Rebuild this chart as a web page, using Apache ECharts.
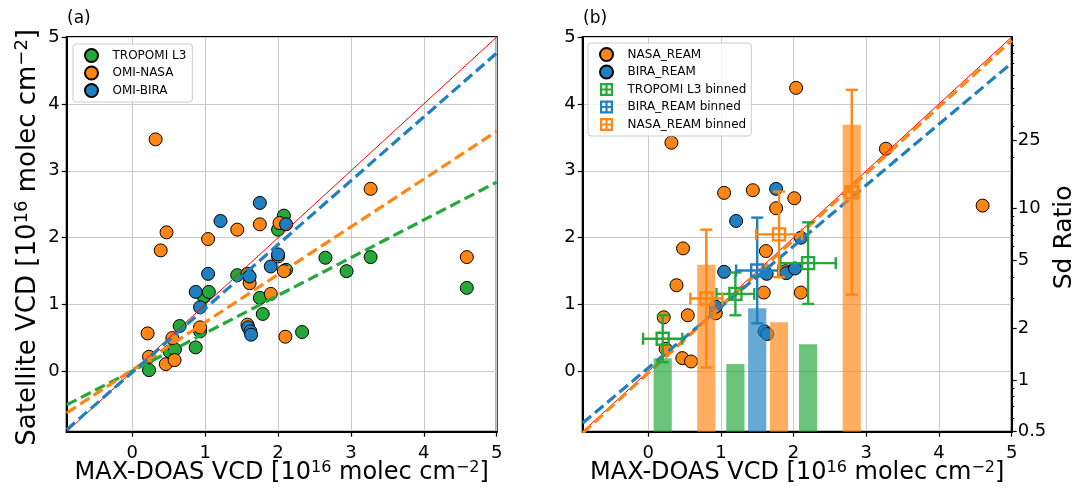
<!DOCTYPE html>
<html>
<head>
<meta charset="utf-8">
<script src="https://cdn.jsdelivr.net/npm/echarts@6/dist/echarts.min.js"></script>
<style>
  html, body { margin: 0; padding: 0; background: #fff; }
  #chart { width: 1077px; height: 488px; }
</style>
</head>
<body>
<div id="chart"></div>
<script>
// ---------- panel (a): satellite vs MAX-DOAS VCD, [x, y] in 1e16 molec cm-2 ----------
const tropomiL3 = [
  [0.23, 0.02], [0.51, 0.30], [0.585, 0.33], [0.87, 0.36], [0.65, 0.68], [0.93, 0.60],
  [0.98, 1.12], [1.05, 1.19], [1.44, 1.44], [1.58, 1.46], [1.75, 1.10], [1.79, 0.86],
  [2.33, 0.59], [2.11, 1.52], [2.00, 2.12], [2.08, 2.33], [2.65, 1.70], [2.94, 1.50],
  [3.27, 1.71], [4.59, 1.25]
];
const omiNasa = [
  [0.32, 3.47], [0.47, 2.08], [0.39, 1.81], [1.04, 1.98], [1.44, 2.12], [1.75, 2.20],
  [3.27, 2.73], [4.59, 1.71], [0.21, 0.57], [0.23, 0.22], [0.46, 0.11], [0.55, 0.50],
  [0.58, 0.17], [0.93, 0.66], [1.61, 1.32], [1.90, 1.16], [1.58, 0.70], [2.10, 0.52],
  [2.02, 2.22], [2.00, 1.72], [2.08, 1.50]
];
const omiBira = [
  [1.75, 2.52], [1.21, 2.25], [2.11, 2.20], [2.00, 1.75], [1.90, 1.57], [1.61, 1.42],
  [1.04, 1.46], [0.87, 1.19], [0.93, 0.96], [1.59, 0.66], [1.62, 0.60], [1.63, 0.55]
];
// regression lines, given by their end points
const oneToOne   = [[-0.9, -0.9], [5, 5]];
const fitTropomi = [[-0.9, -0.50], [5, 2.83]];
const fitOmiNasa = [[-0.9, -0.62], [5, 3.59]];
const fitOmiBira = [[-0.9, -0.87], [5, 4.76]];

// ---------- panel (b): model-adjusted products ----------
const nasaReam = [
  [2.035, 4.24], [0.32, 3.42], [3.27, 3.33], [1.045, 2.67], [1.44, 2.71], [2.01, 2.59],
  [1.76, 2.44], [4.60, 2.48], [0.48, 1.84], [1.62, 1.80], [0.39, 1.29], [1.59, 1.18],
  [2.10, 1.18], [0.545, 0.84], [0.215, 0.81], [0.93, 0.87], [0.24, 0.34], [0.47, 0.20],
  [0.59, 0.15], [1.89, 1.50]
];
const biraReam = [
  [1.76, 2.73], [1.21, 2.25], [2.10, 2.00], [1.045, 1.49], [1.63, 1.46], [1.90, 1.47],
  [2.02, 1.54], [0.93, 0.97], [1.60, 0.60], [1.64, 0.56]
];
const fitNasaReam = [[-0.9, -0.92], [5, 4.95]];
const fitBiraReam = [[-0.9, -0.77], [5, 4.61]];

// binned means with +/- spread
const tropomiBinX    = [0.2, 1.2, 2.2];
const tropomiBinY    = [0.49, 1.16, 1.62];
const tropomiBinXErr = [0.27, 0.26, 0.38];
const tropomiBinYErr = [0.35, 0.32, 0.61];

const biraBinX    = [1.5];
const biraBinY    = [1.51];
const biraBinXErr = [0.29];
const biraBinYErr = [0.79];

const nasaBinX    = [0.8, 1.8, 2.8];
const nasaBinY    = [1.09, 2.05, 2.68];
const nasaBinXErr = [0.22, 0.315, 0.09];
const nasaBinYErr = [1.03, 0.64, 1.53];

// standard-deviation ratio per bin (right log axis)
const tropomiSd = [1.34, 1.24, 1.62];
const biraSd    = [2.62];
const nasaSd    = [4.70, 2.17, 30.8];

// axis ticks
const vcdTicks     = [0, 1, 2, 3, 4, 5];
const sdTicks      = [0.5, 1, 2, 5, 10, 25];
const sdMinorTicks = [0.6, 0.7, 0.8, 0.9, 3, 4, 6, 7, 8, 9, 20, 30, 40, 50, 60, 70, 80, 90];

// ---------- styling ----------
const FONT = 'DejaVu Sans';
const GREEN = '#24a83a';
const ORANGE = '#ff8614';
const BLUE = '#1f7fbf';
const GRID_COLOR = '#c8c8c8';
const SD_MIN = 0.5, SD_MAX = 100;
const BAR_WIDTH = 0.25;
const BIN_ICON = 'path://M0,0H12V12H0Z M2,2V5H5V2Z M7,2V5H10V2Z M2,7V10H5V7Z M7,7V10H10V7Z';

const vcdName = '{n|MAX-DOAS VCD [10}{s|16}{n| molec cm}{s|\u22122}{n|]}';
const satName = '{n|Satellite VCD [10}{s|16}{n| molec cm}{s|\u22122}{n|]}';
function nameRich(size) {
  return {
    n: { fontSize: size, fontFamily: FONT, color: '#000' },
    s: { fontSize: Math.round(size * 0.68), fontFamily: FONT, color: '#000', verticalAlign: 'top', padding: [0, 0, 11, 0] }
  };
}

function vcdAxis(gridIndex, extra) {
  return Object.assign({
    type: 'value', gridIndex: gridIndex, min: -0.9, max: 5,
    axisLine: { show: true, onZero: false, lineStyle: { color: '#000', width: 2 } },
    axisTick: { show: true, length: 5, customValues: vcdTicks, lineStyle: { color: '#000', width: 1.2 } },
    axisLabel: { customValues: vcdTicks, color: '#000', fontSize: 18, fontFamily: FONT, margin: 7 },
    splitLine: { show: true, lineStyle: { color: GRID_COLOR, width: 1 } },
    nameMoveOverlap: false
  }, extra || {});
}

function xAxisFor(gridIndex) {
  return vcdAxis(gridIndex, {
    position: 'bottom',
    axisLabel: { customValues: vcdTicks, color: '#000', fontSize: 18, fontFamily: FONT, margin: 13 },
    name: vcdName, nameLocation: 'middle', nameGap: 28,
    nameTextStyle: { rich: nameRich(24) }
  });
}

function scatter(name, data, color, xi, yi) {
  return {
    type: 'scatter', name: name, data: data, xAxisIndex: xi, yAxisIndex: yi,
    symbol: 'circle', symbolSize: 13, z: 2,
    itemStyle: { color: color, borderColor: '#000', borderWidth: 1, opacity: 1 },
    emphasis: { disabled: true }, silent: true
  };
}

function fitLine(name, data, color, xi, yi, dashed) {
  return {
    type: 'line', name: name, data: data, xAxisIndex: xi, yAxisIndex: yi,
    showSymbol: false, symbol: 'none', z: 3, silent: true,
    lineStyle: dashed ? { color: color, width: 3.2, type: [11, 5] } : { color: color, width: 1 },
    emphasis: { disabled: true }
  };
}

function errorBars(name, xs, ys, xe, ye, color) {
  return {
    type: 'custom', name: name, xAxisIndex: 1, yAxisIndex: 1, z: 4, silent: true,
    itemStyle: { color: color },
    encode: { x: 0, y: 1 },
    data: xs.map((x, i) => [x, ys[i], xe[i], ye[i]]),
    renderItem: function (params, api) {
      const x = api.value(0), y = api.value(1), ex = api.value(2), ey = api.value(3);
      const c = api.coord([x, y]);
      const l = api.coord([x - ex, y]), r = api.coord([x + ex, y]);
      const t = api.coord([x, y + ey]), b = api.coord([x, y - ey]);
      const cap = 6;
      const ls = { stroke: color, lineWidth: 2.4 };
      const seg = (x1, y1, x2, y2) => ({ type: 'line', shape: { x1, y1, x2, y2 }, style: ls });
      return {
        type: 'group',
        children: [
          seg(l[0], l[1], r[0], r[1]),
          seg(t[0], t[1], b[0], b[1]),
          seg(l[0], l[1] - cap, l[0], l[1] + cap),
          seg(r[0], r[1] - cap, r[0], r[1] + cap),
          seg(t[0] - cap, t[1], t[0] + cap, t[1]),
          seg(b[0] - cap, b[1], b[0] + cap, b[1]),
          { type: 'rect', shape: { x: c[0] - 6, y: c[1] - 6, width: 12, height: 12 },
            style: { fill: 'none', stroke: color, lineWidth: 2.4 } }
        ]
      };
    }
  };
}

function sdBars(name, xs, vals, color) {
  return {
    type: 'custom', name: name, xAxisIndex: 1, yAxisIndex: 2, z: 5, silent: true,
    itemStyle: { color: color },
    encode: { x: 0, y: 1 },
    data: xs.map((x, i) => [x, vals[i]]),
    renderItem: function (params, api) {
      const x = api.value(0), v = api.value(1);
      const tl = api.coord([x - BAR_WIDTH / 2, v]);
      const br = api.coord([x + BAR_WIDTH / 2, SD_MIN]);
      return {
        type: 'rect',
        shape: { x: tl[0], y: tl[1], width: br[0] - tl[0], height: br[1] - tl[1] },
        style: { fill: color, opacity: 0.68 }
      };
    }
  };
}

const legendBase = {
  orient: 'vertical', itemWidth: 32, itemHeight: 13, itemGap: 2.5,
  backgroundColor: 'rgba(255,255,255,0.8)', borderColor: '#cccccc', borderWidth: 1, borderRadius: 3,
  textStyle: { fontSize: 12, lineHeight: 15, fontFamily: FONT, color: '#000' },
  selectedMode: false
};

function sdAxis(extra) {
  return Object.assign({
    type: 'log', logBase: 10, gridIndex: 1, position: 'right', min: SD_MIN, max: SD_MAX,
    splitLine: { show: false }, nameMoveOverlap: false
  }, extra);
}

const gridBase = {
  top: 37, height: 394.7, show: true, borderColor: '#000', borderWidth: 2,
  backgroundColor: 'transparent', containLabel: false, outerBoundsMode: 'none'
};

const option = {
  animation: false,
  backgroundColor: '#fff',
  textStyle: { fontFamily: FONT },
  grid: [
    Object.assign({ left: 66.7, width: 430 }, gridBase),
    Object.assign({ left: 582.7, width: 429 }, gridBase)
  ],
  xAxis: [xAxisFor(0), xAxisFor(1)],
  yAxis: [
    vcdAxis(0, {
      position: 'left', name: satName, nameLocation: 'middle', nameRotate: 90, nameGap: 24,
      nameTextStyle: { rich: nameRich(26), padding: [0, 6, 0, 0] }
    }),
    vcdAxis(1, { position: 'left' }),
    sdAxis({
      axisLine: { show: true, onZero: false, lineStyle: { color: '#000', width: 2 } },
      axisTick: { show: true, length: 5, customValues: sdTicks, lineStyle: { color: '#000', width: 1.2 } },
      axisLabel: { customValues: sdTicks, color: '#000', fontSize: 18, fontFamily: FONT, margin: 6 },
      name: 'Sd Ratio', nameLocation: 'middle', nameRotate: 90, nameGap: 40,
      nameTextStyle: { fontSize: 25, fontFamily: FONT, color: '#000', padding: [0, 6, 0, 0] }
    }),
    sdAxis({
      axisLine: { show: false, onZero: false },
      axisTick: { show: true, length: 2.5, customValues: sdMinorTicks, lineStyle: { color: '#000', width: 1 } },
      axisLabel: { show: false }
    })
  ],
  legend: [
    Object.assign({}, legendBase, {
      left: 73, top: 44, padding: [4, 6, 4, 11],
      data: ['TROPOMI L3', 'OMI-NASA', 'OMI-BIRA']
    }),
    Object.assign({}, legendBase, {
      left: 588, top: 43, padding: [4, 5, 4, 11],
      data: [
        'NASA_REAM', 'BIRA_REAM',
        { name: 'TROPOMI L3 binned', icon: BIN_ICON, itemStyle: { color: GREEN } },
        { name: 'BIRA_REAM binned', icon: BIN_ICON, itemStyle: { color: BLUE } },
        { name: 'NASA_REAM binned', icon: BIN_ICON, itemStyle: { color: ORANGE } }
      ]
    })
  ],
  graphic: [
    { type: 'text', left: 67, top: 10, style: { text: '(a)', fontSize: 17, fontFamily: FONT, fill: '#000' } },
    { type: 'text', left: 583, top: 10, style: { text: '(b)', fontSize: 17, fontFamily: FONT, fill: '#000' } }
  ],
  series: [
    // panel (a)
    scatter('TROPOMI L3', tropomiL3, GREEN, 0, 0),
    scatter('OMI-NASA', omiNasa, ORANGE, 0, 0),
    scatter('OMI-BIRA', omiBira, BLUE, 0, 0),
    fitLine('1:1 (a)', oneToOne, '#ff0000', 0, 0, false),
    fitLine('fit TROPOMI L3', fitTropomi, GREEN, 0, 0, true),
    fitLine('fit OMI-NASA', fitOmiNasa, ORANGE, 0, 0, true),
    fitLine('fit OMI-BIRA', fitOmiBira, BLUE, 0, 0, true),
    // panel (b)
    scatter('NASA_REAM', nasaReam, ORANGE, 1, 1),
    scatter('BIRA_REAM', biraReam, BLUE, 1, 1),
    fitLine('1:1 (b)', oneToOne, '#ff0000', 1, 1, false),
    fitLine('fit NASA_REAM', fitNasaReam, ORANGE, 1, 1, true),
    fitLine('fit BIRA_REAM', fitBiraReam, BLUE, 1, 1, true),
    errorBars('TROPOMI L3 binned', tropomiBinX, tropomiBinY, tropomiBinXErr, tropomiBinYErr, GREEN),
    errorBars('BIRA_REAM binned', biraBinX, biraBinY, biraBinXErr, biraBinYErr, BLUE),
    errorBars('NASA_REAM binned', nasaBinX, nasaBinY, nasaBinXErr, nasaBinYErr, ORANGE),
    sdBars('TROPOMI L3 Sd ratio', tropomiBinX, tropomiSd, GREEN),
    sdBars('BIRA_REAM Sd ratio', biraBinX, biraSd, BLUE),
    sdBars('NASA_REAM Sd ratio', nasaBinX, nasaSd, ORANGE)
  ]
};

const chart = echarts.init(document.getElementById('chart'), null, { renderer: 'canvas' });
chart.setOption(option);
</script>
</body>
</html>
